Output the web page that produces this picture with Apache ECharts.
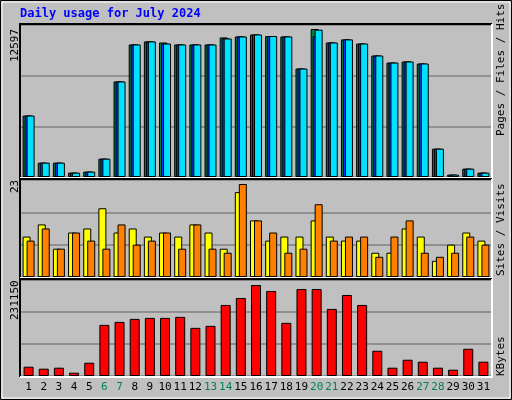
<!DOCTYPE html>
<html><head><meta charset="utf-8">
<script src="https://cdn.jsdelivr.net/npm/echarts@6/dist/echarts.min.js"></script>
<style>html,body{margin:0;padding:0;background:#c0c0c0}#c{width:512px;height:400px}</style>
</head><body><div id="c"></div>
<script>
const days = Array.from({length:31},(_,i)=>String(i+1));
const weekend = ['6','7','13','14','20','21','27','28'];
const hits  = [5230,1220,1220,370,455,1560,8130,11280,11540,11450,11280,11280,11280,11880,11960,12130,12000,11960,9230,12597,11450,11710,11360,10340,9740,9830,9660,2410,200,710,370];
const files = [5230,1220,1220,370,455,1560,8130,11280,11540,11360,11280,11280,11280,11790,11960,12130,12000,11960,9230,11990,11450,11710,11360,10340,9740,9830,9660,2410,200,710,370];
const pages = [5230,1220,1220,370,455,1560,8130,11280,11540,11360,11280,11280,11280,11790,11960,12130,12000,11960,9230,12540,11450,11710,11360,10340,9740,9830,9660,2410,200,710,370];
const visits = [10,13,7,11,12,17,11,12,10,11,10,13,11,7,21,14,9,10,10,14,10,9,9,6,6,12,10,4,8,11,9];
const sites  = [9,12,7,11,9,7,13,8,9,11,7,13,7,6,23,14,11,6,7,18,9,10,10,5,10,14,6,5,6,10,8];
const kbytes = [23600,18560,21090,8440,33740,129900,137500,145100,147600,147600,150200,122300,127400,180500,198200,231150,216000,135000,221000,221000,170400,205800,180500,64100,21090,41300,36300,21090,16000,69200,36300];
const maxLabels = ['12597','23','231150'];

const mono = 'DejaVu Sans Mono';
const grids = [
  {left:21, width:470, top:25, height:152},
  {left:21, width:470, top:180, height:97},
  {left:21, width:470, top:280, height:96}
];
const scale = [12597*152/148, 23*97/93, 231150*96/91];
function xa(i, show){
  return {type:'category', gridIndex:i, data:days, boundaryGap:true,
    axisLine:{show:false}, axisTick:{show:false},
    axisLabel:{show:show, fontFamily:mono, fontSize:11, margin:6, interval:0,
      color:(v)=>weekend.includes(v)?'#00805c':'#000'}};
}
function ya(i){
  return {type:'value', gridIndex:i, min:0, max:scale[i], interval:scale[i]/3,
    axisLabel:{show:false}, axisLine:{show:false}, axisTick:{show:false},
    splitLine:{show:true, lineStyle:{color:'#808080', width:1.5}}};
}
const ib = {borderColor:'#000', borderWidth:1};
function bar(name, data, i, color, w, gap){
  return {name, type:'bar', xAxisIndex:i, yAxisIndex:i, data, barWidth:w, barGap:gap,
    itemStyle:Object.assign({color}, ib), animation:false, silent:true};
}
function vText(x, y, text, fill, rich){
  const st = {text, fontFamily:mono, fontSize:11, fill, align:'left', verticalAlign:'middle'};
  if (rich) st.rich = rich;
  return {type:'text', x, y, rotation:Math.PI/2, style:st, z:20};
}
function sideText(y, parts){
  const rich = Object.fromEntries(parts.map(p=>[p[1],{color:p[2], fontFamily:mono, fontSize:11}]));
  return vText(501, y, parts.map(p=>'{'+p[1]+'|'+p[0]+'}').join(''), '#000', rich);
}
const chart = echarts.init(document.getElementById('c'));
const frames = grids.map(g=>[
  {type:'polyline', shape:{points:[[g.left-1,g.top+g.height+1],[g.left-1,g.top-1],[g.left+g.width+1,g.top-1]]}, style:{stroke:'#000', lineWidth:2, fill:null}, z:10},
  {type:'polyline', shape:{points:[[g.left+g.width+1,g.top-1],[g.left+g.width+1,g.top+g.height+1],[g.left-1,g.top+g.height+1]]}, style:{stroke:'#fff', lineWidth:2, fill:null}, z:10}
]).flat();
chart.setOption({
  backgroundColor:'#c0c0c0',
  animation:false,
  grid:grids.map(g=>Object.assign({show:true, backgroundColor:'#c0c0c0', borderWidth:0},g)),
  xAxis:[xa(0,false), xa(1,false), xa(2,true)],
  yAxis:[ya(0), ya(1), ya(2)],
  series:[
    bar('Hits', hits, 0, '#008040', 8, '-75%'),
    bar('Files', files, 0, '#0040ff', 8, '-75%'),
    bar('Pages', pages, 0, '#00e0ff', 8, '-75%'),
    bar('Visits', visits, 1, '#ffff00', 8, '-50%'),
    bar('Sites', sites, 1, '#ff8000', 8, '-50%'),
    bar('KBytes', kbytes, 2, '#ff0000', 10, '0%')
  ],
  graphic:[
    {type:'rect', shape:{x:0.5,y:0.5,width:511,height:399}, style:{stroke:'#000', fill:null, lineWidth:1}},
    {type:'rect', shape:{x:2,y:2,width:508,height:396}, style:{stroke:'#fff', fill:null, lineWidth:1}},
    {type:'text', left:20, top:8, style:{text:'Daily usage for July 2024', fontFamily:mono, fontSize:12, fontWeight:'bold', fill:'#0000ff'}},
    vText(15, 62, maxLabels[0], '#000'),
    vText(15, 193, maxLabels[1], '#000'),
    vText(15, 320, maxLabels[2], '#000'),
    sideText(136, [['Pages','a','#00c0ff'],[' / ','s','#000'],['Files','b','#0040ff'],[' / ','t','#000'],['Hits','c','#008040']]),
    sideText(276, [['Sites','a','#ff8000'],[' / ','s','#000'],['Visits','b','#e0e000']]),
    sideText(376, [['KBytes','a','#ff0000']]),
    ...frames
  ]
});
</script></body></html>
